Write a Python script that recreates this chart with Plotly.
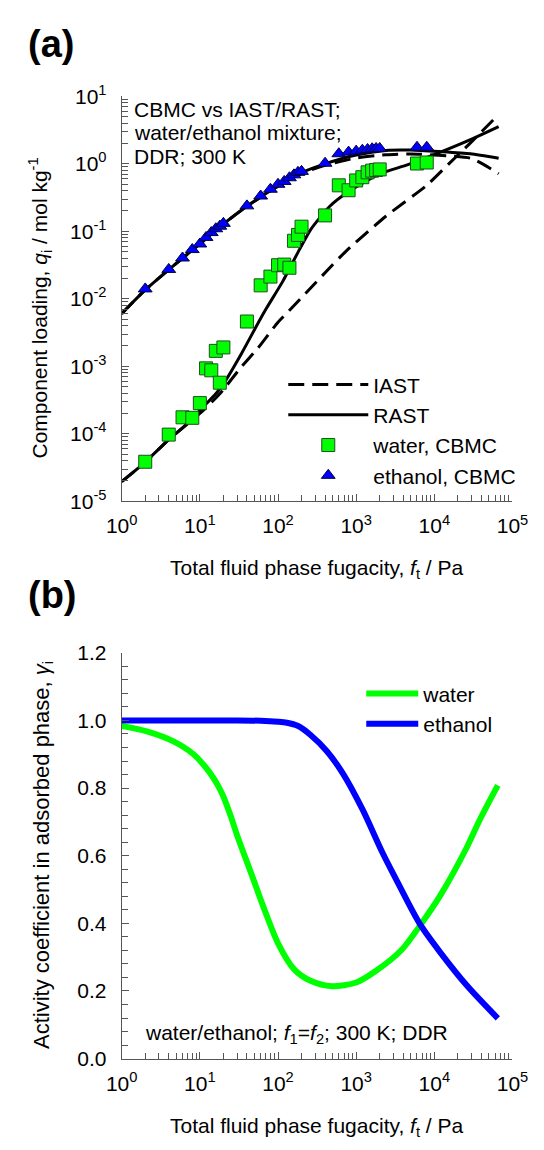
import plotly.graph_objects as go

# ---------------- panel (a) data ----------------
cbmc_f = [2, 4, 6, 8, 10, 12, 14, 16, 18, 20, 40, 60, 80, 100, 120, 140, 160, 180, 200,
          400, 600, 800, 1000, 1200, 1400, 1600, 1800, 2000, 6000, 8000]
water_cbmc = [3.84e-5, 9.7e-5, 1.75e-4, 1.72e-4, 2.84e-4, 9.3e-4, 8.7e-4, 1.69e-3, 5.7e-4, 1.9e-3,
              4.6e-3, 0.0158, 0.0213, 0.0314, 0.0321, 0.0288, 0.0723, 0.0883, 0.117,
              0.172, 0.48, 0.406, 0.567, 0.633, 0.748, 0.792, 0.81, 0.826, 1.01, 1.045]
ethanol_cbmc = [0.014, 0.0272, 0.0402, 0.0536, 0.0649, 0.0811, 0.0957, 0.109, 0.119, 0.131,
                0.238, 0.333, 0.42, 0.497, 0.548, 0.621, 0.686, 0.748, 0.773,
                1.02, 1.41, 1.49, 1.54, 1.59, 1.63, 1.67, 1.69, 1.69, 1.76, 1.76]

rast_f_w = [1, 2, 4, 6.6, 11.4, 16, 21.8, 34.3, 57, 72, 115, 182, 263, 457, 795, 2000, 4600, 11500, 29000, 66500]
rast_water = [1.95e-5, 3.8e-5, 8.2e-5, 1.35e-4, 2.6e-4, 3.9e-4, 6.4e-4, 1.56e-3, 4.6e-3, 7.4e-3, 0.0181,
              0.05, 0.107, 0.233, 0.384, 0.71, 0.97, 1.46, 2.28, 3.56]
iast_f_w = [1, 2, 4, 6.6, 11.4, 18, 34.5, 55, 100, 138, 733, 2400, 8000, 15200, 29000, 58000]
iast_water = [1.95e-5, 3.8e-5, 8.2e-5, 1.33e-4, 2.3e-4, 3.9e-4, 1.0e-3, 1.84e-3, 4.5e-3, 6.6e-3,
              0.050, 0.167, 0.48, 0.99, 2.04, 4.6]
rast_f_e = [1, 2, 4, 10, 20, 40, 100, 200, 400, 1000, 2400, 5000, 11500, 29000, 66500]
rast_ethanol = [0.006, 0.0135, 0.027, 0.065, 0.128, 0.235, 0.47, 0.74, 1.0, 1.35, 1.58, 1.6, 1.52, 1.41, 1.21]
iast_f_e = [1, 2, 4, 10, 20, 40, 100, 200, 400, 1000, 2400, 5000, 15200, 29000, 42000, 66500]
iast_ethanol = [0.006, 0.0135, 0.027, 0.065, 0.128, 0.235, 0.465, 0.72, 0.95, 1.22, 1.36, 1.4, 1.31,
                1.21, 0.99, 0.71]

# ---------------- panel (b) data ----------------
gam_f_w = [1, 2.15, 4.6, 8.3, 12, 14.7, 17, 20, 25, 30, 45, 68, 100, 161, 261, 487, 1000, 1780,
           3830, 6810, 12100, 26100, 38300, 64900]
gamma_water = [0.984, 0.967, 0.938, 0.9, 0.86, 0.832, 0.808, 0.775, 0.715, 0.66, 0.55, 0.437,
               0.341, 0.264, 0.23, 0.214, 0.225, 0.259, 0.322, 0.399, 0.485, 0.625, 0.707, 0.808]
gam_f_e = [1, 3, 10, 30, 60, 100, 130, 178, 261, 422, 681, 1210, 2150, 3160, 6490, 12100, 26100, 64900]
gamma_ethanol = [1.0, 1.0, 1.0, 1.0, 0.999, 0.996, 0.993, 0.984, 0.957, 0.909, 0.842, 0.736, 0.611,
                 0.535, 0.399, 0.312, 0.216, 0.119]

# ---------------- ticks ----------------
x_major = [1, 10, 100, 1000, 10000, 100000]
x_major_text = ["10<sup>0</sup>", "10<sup>1</sup>", "10<sup>2</sup>", "10<sup>3</sup>",
                "10<sup>4</sup>", "10<sup>5</sup>"]
y_major = [1e-5, 1e-4, 1e-3, 1e-2, 1e-1, 1, 10]
y_major_text = ["10<sup>-5</sup>", "10<sup>-4</sup>", "10<sup>-3</sup>", "10<sup>-2</sup>",
                "10<sup>-1</sup>", "10<sup>0</sup>", "10<sup>1</sup>"]
x_minor = [m * 10 ** k for k in range(0, 5) for m in range(2, 10)]
y_minor = [m * 10.0 ** k for k in range(-5, 1) for m in range(2, 10)]

# figure sized to fit inside the page's default 8px body margin
W, H = 528, 1134
OFF = 8
FONT = "Liberation Sans, Arial, sans-serif"
AX = "#555555"
GREEN = "#00ff00"
BLUE = "#0000ff"


def px(s):
    return (s - OFF) / W


def py(s):
    return 1 - (s - OFF) / H


fig = go.Figure()

fig.add_trace(go.Scatter(x=iast_f_w, y=iast_water, mode="lines", name="IAST", legendgroup="iast",
                         line=dict(color="black", width=3, dash="16px,8px", shape="spline", smoothing=0.6),
                         xaxis="x", yaxis="y", legend="legend"))
fig.add_trace(go.Scatter(x=iast_f_e, y=iast_ethanol, mode="lines", name="IAST", legendgroup="iast",
                         showlegend=False,
                         line=dict(color="black", width=3, dash="16px,8px", shape="spline", smoothing=0.6),
                         xaxis="x", yaxis="y"))
fig.add_trace(go.Scatter(x=rast_f_w, y=rast_water, mode="lines", name="RAST", legendgroup="rast",
                         line=dict(color="black", width=3, shape="spline", smoothing=0.6),
                         xaxis="x", yaxis="y", legend="legend"))
fig.add_trace(go.Scatter(x=rast_f_e, y=rast_ethanol, mode="lines", name="RAST", legendgroup="rast",
                         showlegend=False,
                         line=dict(color="black", width=3, shape="spline", smoothing=0.6),
                         xaxis="x", yaxis="y"))
fig.add_trace(go.Scatter(x=cbmc_f, y=water_cbmc, mode="markers", name="water, CBMC",
                         marker=dict(symbol="square", size=13, color=GREEN,
                                     line=dict(color="#1f4f1f", width=1)),
                         xaxis="x", yaxis="y", legend="legend"))
fig.add_trace(go.Scatter(x=cbmc_f, y=ethanol_cbmc, mode="markers", name="ethanol, CBMC",
                         marker=dict(symbol="triangle-up", size=12, color=BLUE,
                                     line=dict(color="#000040", width=1)),
                         xaxis="x", yaxis="y", legend="legend"))

fig.add_trace(go.Scatter(x=gam_f_w, y=gamma_water, mode="lines", name="water",
                         line=dict(color=GREEN, width=6, shape="spline", smoothing=0.8),
                         xaxis="x2", yaxis="y2", legend="legend2"))
fig.add_trace(go.Scatter(x=gam_f_e, y=gamma_ethanol, mode="lines", name="ethanol",
                         line=dict(color=BLUE, width=6, shape="spline", smoothing=0.8),
                         xaxis="x2", yaxis="y2", legend="legend2"))

axis_common = dict(showline=True, linecolor=AX, linewidth=1, ticks="inside", tickcolor=AX,
                   ticklen=7, tickwidth=1, showgrid=False, zeroline=False, mirror=False,
                   tickfont=dict(size=21, color="black", family=FONT))

xdom = [px(112), px(528)]

fig.update_layout(
    width=W, height=H,
    margin=dict(l=0, r=0, t=0, b=0),
    paper_bgcolor="white", plot_bgcolor="white",
    font=dict(family=FONT, size=21, color="black"),
    xaxis=dict(type="log", range=[0, 5], domain=xdom, anchor="y",
               tickmode="array", tickvals=x_major, ticktext=x_major_text, ticklabeloverflow="allow",
               minor=dict(ticks="inside", ticklen=6, tickcolor=AX, tickvals=x_minor, showgrid=False),
               ticklabelstandoff=6, **axis_common),
    yaxis=dict(type="log", range=[-5, 1], domain=[py(498), py(84)], anchor="x",
               tickmode="array", tickvals=y_major, ticktext=y_major_text,
               minor=dict(ticks="inside", ticklen=6, tickcolor=AX, tickvals=y_minor, showgrid=False),
               ticklabelstandoff=10, **axis_common),
    xaxis2=dict(type="log", range=[0, 5], domain=xdom, anchor="y2",
                tickmode="array", tickvals=x_major, ticktext=x_major_text, ticklabeloverflow="allow",
                minor=dict(ticks="inside", ticklen=6, tickcolor=AX, tickvals=x_minor, showgrid=False),
                ticklabelstandoff=6, **axis_common),
    yaxis2=dict(range=[0, 1.2], domain=[py(1068), py(653)], anchor="x2",
                tickmode="linear", tick0=0, dtick=0.2, tickformat=".1f",
                minor=dict(ticks="inside", ticklen=6, tickcolor=AX, dtick=0.04, tick0=0, showgrid=False),
                ticklabelstandoff=10, **axis_common),
    legend=dict(x=px(284), xanchor="left", y=py(358), yanchor="top", bgcolor="rgba(0,0,0,0)",
                font=dict(size=21, family=FONT), itemwidth=80, tracegroupgap=0),
    legend2=dict(x=px(367), xanchor="left", y=py(674), yanchor="top", bgcolor="rgba(0,0,0,0)",
                 font=dict(size=21, family=FONT), itemwidth=52, tracegroupgap=0),
    showlegend=True,
)

ann = [
    dict(text="<b>(a)</b>", x=px(10), y=py(30), xanchor="left", yanchor="middle", font=dict(size=38)),
    dict(text="<b>(b)</b>", x=px(10), y=py(594), xanchor="left", yanchor="middle", font=dict(size=38)),
    dict(text="CBMC vs IAST/RAST;", x=px(123), y=py(97), xanchor="left", yanchor="middle"),
    dict(text="water/ethanol mixture;", x=px(123), y=py(121.5), xanchor="left", yanchor="middle"),
    dict(text="DDR; 300 K", x=px(123), y=py(146), xanchor="left", yanchor="middle"),
    dict(text="Total fluid phase fugacity, <i>f</i><sub>t</sub> / Pa", x=px(320), y=py(567),
         xanchor="center", yanchor="middle"),
    dict(text="Component loading, <i>q</i><sub>i</sub> / mol kg<sup>-1</sup>", x=px(25), y=py(300),
         xanchor="center", yanchor="middle", textangle=-90),
    dict(text="water/ethanol; <i>f</i><sub>1</sub>=<i>f</i><sub>2</sub>; 300 K; DDR", x=px(135), y=py(1043),
         xanchor="left", yanchor="middle"),
    dict(text="Total fluid phase fugacity, <i>f</i><sub>t</sub> / Pa", x=px(320), y=py(1138),
         xanchor="center", yanchor="middle"),
    dict(text="Activity coefficient in adsorbed phase, <i>γ</i><sub>i</sub>", x=px(28), y=py(860),
         xanchor="center", yanchor="middle", textangle=-90, font=dict(size=22)),
]
for a in ann:
    a.update(xref="paper", yref="paper", showarrow=False)
    fig.add_annotation(**a)

fig.write_html("out.html")
